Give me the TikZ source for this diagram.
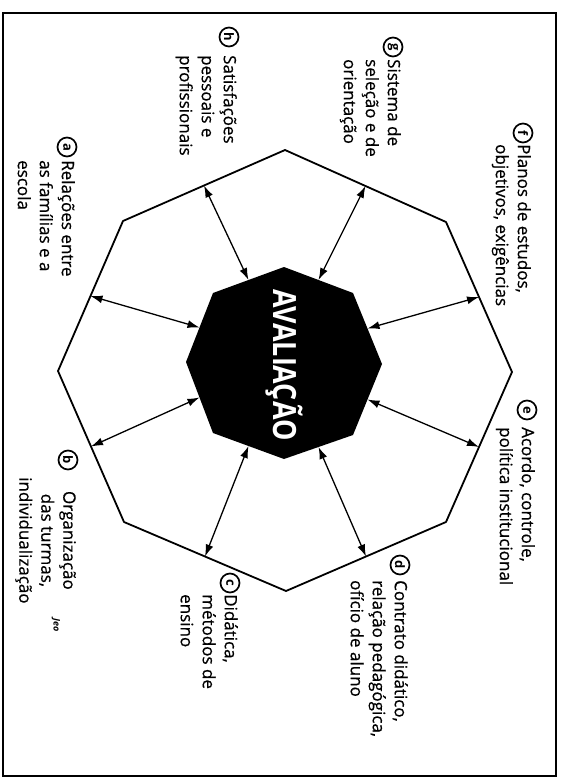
\documentclass[tikz,border=0pt]{standalone}
\usepackage{fontspec}
\setmainfont{Open Sans}
\newfontfamily\textofont{Open Sans}[FakeBold=0.6]
\usetikzlibrary{arrows.meta,calc}
\newcommand{\FT}{\fontsize{17}{22}\textofont\selectfont}
\newcommand{\FC}{\fontsize{13}{14}\selectfont\bfseries}
\newcommand{\FA}{\fontsize{32}{36}\selectfont\bfseries}

\begin{document}
\begin{tikzpicture}[x=1pt,y=-1pt]
\tikzstyle{texto}=[inner sep=0pt,rotate=-90,anchor=north west,align=left,font=\FT]
\tikzstyle{letra}=[draw,circle,line width=1.7pt,minimum size=19pt,inner sep=0pt,rotate=-90,font=\FC]
\tikzstyle{borda}=[line width=1.8pt,line join=round]
\tikzstyle{seta}=[line width=1.3pt,{Latex[length=12pt,width=8pt]}-{Latex[length=12pt,width=8pt]}]

\useasboundingbox (0,0) rectangle (566,778);
\draw[line width=2pt] (3,13) rectangle (556,776);

\coordinate (o1) at (285,150);
\coordinate (o2) at (446,222);
\coordinate (o3) at (512,372);
\coordinate (o4) at (446,522);
\coordinate (o5) at (286,591);
\coordinate (o6) at (124,522);
\coordinate (o7) at (58,371);
\coordinate (o8) at (123,221);

\coordinate (i1) at (284,267);
\coordinate (i2) at (353,293);
\coordinate (i3) at (382,364);
\coordinate (i4) at (353,435);
\coordinate (i5) at (284,459);
\coordinate (i6) at (213,433);
\coordinate (i7) at (186,362);
\coordinate (i8) at (213,293);

\draw[borda] (o1)--(o2)--(o3)--(o4)--(o5)--(o6)--(o7)--(o8)--cycle;
\fill[black] (i1)--(i2)--(i3)--(i4)--(i5)--(i6)--(i7)--(i8)--cycle;
\node[white,font=\FA,rotate=-90] (aval) at (284,365) {\scalebox{0.84}[1]{AVALIAÇÃO}};

\foreach \a/\b in {1/2,2/3,3/4,4/5,5/6,6/7,7/8,8/1}
  \draw[seta] ($(i\a)!0.5!(i\b)$) -- ($(o\a)!0.5!(o\b)$);

\node[letra] (cf) at (523,133) {f};
\node[texto] (tf) at (531,144) {Planos de estudos,\\objetivos, exigências};

\node[letra] (ce) at (527,410) {e};
\node[texto] (te) at (535,427) {Acordo, controle,\\política institucional};

\node[letra] (cd) at (400,565) {d};
\node[texto] (td) at (408,580) {Contrato didático,\\relação pedagógica,\\ofício de aluno};

\node[letra] (cc) at (230,583) {c};
\node[texto] (tc) at (238,594) {Didática,\\métodos de\\ensino};

\node[letra] (cb) at (68,460) {b};
\node[texto,align=center] (tb) at (76,477) {Organização\\das turmas,\\individualização};

\node[letra] (ca) at (67,147) {a};
\node[texto] (ta) at (75,160) {Relações entre\\as famílias e a\\escola};

\node[letra] (ch) at (229,37) {h};
\node[texto] (th) at (237,55) {Satisfações\\pessoais e\\profissionais};

\node[letra] (cg) at (393,47) {g};
\node[texto] (tg) at (401,59) {Sistema de\\seleção e de\\orientação};

\node[rotate=-90,font=\fontsize{9}{10}\selectfont\itshape\bfseries] (assin) at (56,625) {Jeo};
\end{tikzpicture}
\end{document}
